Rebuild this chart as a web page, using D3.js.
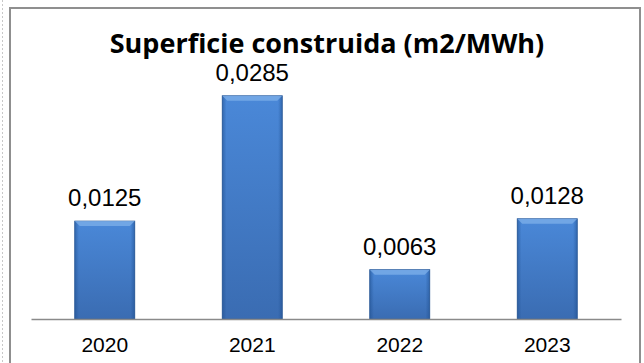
<!DOCTYPE html>
<html>
<head>
<meta charset="utf-8">
<script src="https://cdn.jsdelivr.net/npm/d3@7"></script>
<style>
  html, body { margin: 0; padding: 0; background: #fff; }
  svg { display: block; }
</style>
</head>
<body>
<svg id="chart" width="644" height="363"></svg>
<script>
// Data
const years = ["2020", "2021", "2022", "2023"];
const values = [0.0125, 0.0285, 0.0063, 0.0128];
const valueLabels = ["0,0125", "0,0285", "0,0063", "0,0128"];
const chartTitle = "Superficie construida (m2/MWh)";

const svg = d3.select("#chart");
const W = 644, H = 363;
const plot = { left: 31, right: 621, top: 84, bottom: 319 };

// Faint dashed guide at the far left edge
svg.append("line")
  .attr("x1", 2.5).attr("x2", 2.5).attr("y1", 0).attr("y2", H)
  .attr("stroke", "#c8c8c8").attr("stroke-width", 1)
  .attr("stroke-dasharray", "2,2");

// Chart frame
svg.append("rect")
  .attr("x", 10).attr("y", 8)
  .attr("width", 630).attr("height", H + 10)
  .attr("fill", "#fff")
  .attr("stroke", "#8f8f8f").attr("stroke-width", 2);

// Gradients for the bevelled bars
const defs = svg.append("defs");
const body = defs.append("linearGradient").attr("id", "barBody")
  .attr("x1", 0).attr("y1", 0).attr("x2", 0).attr("y2", 1);
body.append("stop").attr("offset", "0%").attr("stop-color", "#4a88d8");
body.append("stop").attr("offset", "100%").attr("stop-color", "#3a6cb2");

const sides = defs.append("linearGradient").attr("id", "barSides")
  .attr("x1", 0).attr("y1", 0).attr("x2", 1).attr("y2", 0);
sides.append("stop").attr("offset", "0%").attr("stop-color", "#1f4f8f").attr("stop-opacity", 0.55);
sides.append("stop").attr("offset", "7%").attr("stop-color", "#1f4f8f").attr("stop-opacity", 0);
sides.append("stop").attr("offset", "93%").attr("stop-color", "#1f4f8f").attr("stop-opacity", 0);
sides.append("stop").attr("offset", "100%").attr("stop-color", "#1f4f8f").attr("stop-opacity", 0.55);

// Scales
const x = d3.scaleBand().domain(years)
  .range([plot.left, plot.right])
  .paddingInner(0.593).paddingOuter(0.2965);
const y = d3.scaleLinear().domain([0, 0.03]).range([plot.bottom, plot.top]);

const data = years.map((yr, i) => ({ yr, v: values[i], label: valueLabels[i] }));

const bars = svg.append("g").selectAll("g").data(data).join("g");

bars.append("rect")
  .attr("x", d => x(d.yr)).attr("y", d => y(d.v))
  .attr("width", x.bandwidth()).attr("height", d => y(0) - y(d.v))
  .attr("fill", "url(#barBody)")
  .attr("stroke", "#2d5a96").attr("stroke-width", 0.8);

bars.append("rect")
  .attr("x", d => x(d.yr)).attr("y", d => y(d.v))
  .attr("width", x.bandwidth()).attr("height", d => y(0) - y(d.v))
  .attr("fill", "url(#barSides)");

// Top bevel highlight
bars.append("path")
  .attr("d", d => {
    const x0 = x(d.yr), x1 = x0 + x.bandwidth(), t = y(d.v), b = 5;
    return `M${x0},${t}L${x1},${t}L${x1 - b},${t + b}L${x0 + b},${t + b}Z`;
  })
  .attr("fill", "#7fb0ea").attr("opacity", 0.75);

// Value labels
bars.append("text")
  .attr("x", d => x(d.yr) + x.bandwidth() / 2)
  .attr("y", d => y(d.v) - 15)
  .attr("text-anchor", "middle")
  .attr("font-family", "Liberation Sans, Arial, sans-serif")
  .attr("font-size", 24)
  .attr("fill", "#000")
  .text(d => d.label);

// Category axis
const xAxis = svg.append("g")
  .attr("transform", `translate(0,${plot.bottom})`)
  .call(d3.axisBottom(x).tickSize(0).tickPadding(18));
xAxis.select(".domain").attr("stroke", "#8a8a8a").attr("stroke-width", 1.5);
xAxis.selectAll("text")
  .attr("font-family", "Liberation Sans, Arial, sans-serif")
  .attr("font-size", 21)
  .attr("fill", "#000");

// Title
svg.append("text")
  .attr("x", 327).attr("y", 53)
  .attr("text-anchor", "middle")
  .attr("font-family", "Open Sans, Liberation Sans, sans-serif")
  .attr("font-weight", "bold")
  .attr("font-size", 27)
  .attr("fill", "#000")
  .text(chartTitle);
</script>
</body>
</html>
